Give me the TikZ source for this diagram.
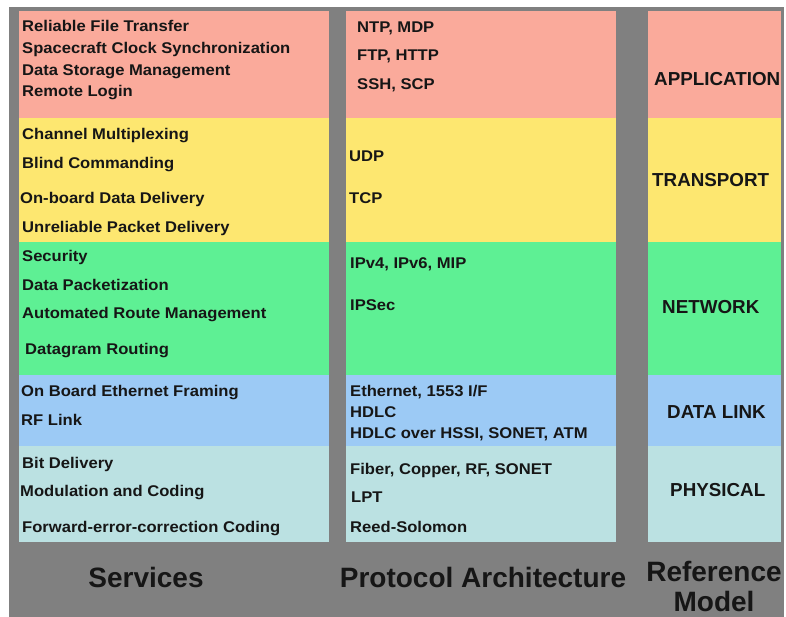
\documentclass[tikz,border=0pt]{standalone}
\usepackage{fontspec}
\setmainfont{Liberation Sans}
\newfontfamily\widesans{Liberation Sans}[FakeStretch=1.07]
\definecolor{bgray}{RGB}{128,128,128}
\definecolor{bpink}{RGB}{250,170,155}
\definecolor{byellow}{RGB}{253,231,112}
\definecolor{bgreen}{RGB}{94,240,148}
\definecolor{bblue}{RGB}{156,202,245}
\definecolor{bcyan}{RGB}{187,225,226}
\definecolor{ink}{RGB}{22,22,22}
\begin{document}
\begin{tikzpicture}[x=1pt,y=-1pt,
  txt/.style={anchor=west, inner sep=0pt, text height=11pt, text depth=0pt, text=ink,
    font=\widesans\bfseries\fontsize{15.5}{18}\selectfont},
  layer/.style={anchor=west, inner sep=0pt, text height=13pt, text depth=0pt, text=ink,
    font=\bfseries\fontsize{18.8}{22}\selectfont},
  title/.style={anchor=center, inner sep=0pt, text=ink, align=center,
    font=\bfseries\fontsize{28}{32}\selectfont}]
\useasboundingbox (0,0) rectangle (786,617);
\fill[white] (0,0) rectangle (786,617);
\fill[bgray] (9,7) rectangle (784,617);
% bands for the three columns
\foreach \xa/\xb in {19/329, 346/616, 648/781}{
  \fill[bpink]   (\xa,11)  rectangle (\xb,118);
  \fill[byellow] (\xa,118) rectangle (\xb,242);
  \fill[bgreen]  (\xa,242) rectangle (\xb,375);
  \fill[bblue]   (\xa,375) rectangle (\xb,446);
  \fill[bcyan]   (\xa,446) rectangle (\xb,542);
}
% Services column
\node[txt] (s1)  at (22,26)  {Reliable File Transfer};
\node[txt] (s2)  at (22,48)  {Spacecraft Clock Synchronization};
\node[txt] (s3)  at (22,70)  {Data Storage Management};
\node[txt] (s4)  at (22,91)  {Remote Login};
\node[txt] (s5)  at (22,134) {Channel Multiplexing};
\node[txt] (s6)  at (22,163) {Blind Commanding};
\node[txt] (s7)  at (20,198) {On-board Data Delivery};
\node[txt] (s8)  at (22,227) {Unreliable Packet Delivery};
\node[txt] (s9)  at (22,256) {Security};
\node[txt] (s10) at (22,285) {Data Packetization};
\node[txt] (s11) at (22,313) {Automated Route Management};
\node[txt] (s12) at (25,349) {Datagram Routing};
\node[txt] (s13) at (21,391) {On Board Ethernet Framing};
\node[txt] (s14) at (21,420) {RF Link};
\node[txt] (s15) at (22,463) {Bit Delivery};
\node[txt] (s16) at (20,491) {Modulation and Coding};
\node[txt] (s17) at (22,527) {Forward-error-correction Coding};
% Protocol column
\node[txt] (p1)  at (357,27)  {NTP, MDP};
\node[txt] (p2)  at (357,55)  {FTP, HTTP};
\node[txt] (p3)  at (357,84)  {SSH, SCP};
\node[txt] (p4)  at (349,156) {UDP};
\node[txt] (p5)  at (349,198) {TCP};
\node[txt] (p6)  at (350,263) {IPv4, IPv6, MIP};
\node[txt] (p7)  at (350,305) {IPSec};
\node[txt] (p8)  at (350,391) {Ethernet, 1553 I/F};
\node[txt] (p9)  at (350,412) {HDLC};
\node[txt] (p10) at (350,433) {HDLC over HSSI, SONET, ATM};
\node[txt] (p11) at (350,469) {Fiber, Copper, RF, SONET};
\node[txt] (p12) at (351,497) {LPT};
\node[txt] (p13) at (350,527) {Reed-Solomon};
% Reference model column
\node[layer] (r1) at (654,79)  {APPLICATION};
\node[layer] (r2) at (652,180) {TRANSPORT};
\node[layer] (r3) at (662,307) {NETWORK};
\node[layer] (r4) at (667,412) {DATA LINK};
\node[layer] (r5) at (670,490) {PHYSICAL};
% column titles
\node[title] (t1) at (146,577) {Services};
\node[title] (t2) at (483,577) {Protocol Architecture};
\node[title] (t3) at (714,586) {Reference\\[-2pt]Model};
\end{tikzpicture}
\end{document}
